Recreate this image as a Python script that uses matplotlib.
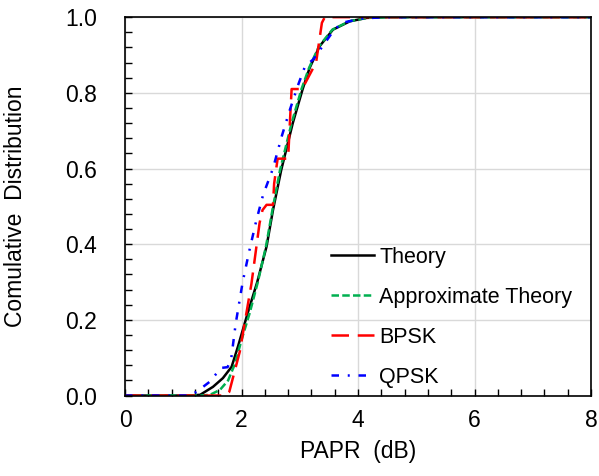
import matplotlib
matplotlib.use("Agg")
import matplotlib.pyplot as plt
from matplotlib.ticker import MultipleLocator

plt.rcParams['font.family'] = ['Liberation Sans', 'DejaVu Sans']

# Theory (black solid)
x_theory = [0, 1.1, 1.29, 1.51, 1.68, 1.83, 1.94, 2.11, 2.27, 2.43, 2.54, 2.68,
            2.88, 3.05, 3.17, 3.34, 3.57, 3.86, 4.15, 4.5, 8]
y_theory = [0, 0, 0.002, 0.023, 0.046, 0.076, 0.13, 0.22, 0.30, 0.394, 0.49, 0.595,
            0.72, 0.81, 0.866, 0.923, 0.967, 0.989, 0.998, 1.0, 1.0]

# Approximate theory (green dashed)
x_approx = [0, 1.3, 1.46, 1.63, 1.77, 1.89, 2.0, 2.14, 2.28, 2.42, 2.53, 2.66,
            2.86, 3.03, 3.16, 3.33, 3.56, 3.85, 4.15, 4.5, 8]
y_approx = [0, 0, 0.002, 0.015, 0.04, 0.085, 0.147, 0.218, 0.30, 0.394, 0.49, 0.595,
            0.72, 0.81, 0.866, 0.923, 0.967, 0.989, 0.998, 1.0, 1.0]

# BPSK (red long dash)
x_bpsk = [0, 1.72, 1.79, 1.97, 2.17, 2.31, 2.36, 2.43, 2.54, 2.56, 2.62, 2.80,
          2.83, 2.86, 3.04, 3.28, 3.38, 3.43, 8]
y_bpsk = [0, 0, 0.01, 0.116, 0.295, 0.456, 0.49, 0.504, 0.504, 0.56, 0.626, 0.626,
          0.72, 0.81, 0.81, 0.88, 0.985, 1.0, 1.0]

# QPSK (blue dash-dot)
x_qpsk = [0, 1.1, 1.23, 1.45, 1.65, 1.76, 1.82, 1.90, 2.02, 2.13, 2.25, 2.37,
          2.54, 2.69, 2.83, 2.97, 3.09, 3.23, 3.57, 3.72, 4.1, 4.5, 8]
y_qpsk = [0, 0, 0.01, 0.036, 0.073, 0.075, 0.094, 0.19, 0.30, 0.38, 0.46, 0.53,
          0.60, 0.685, 0.755, 0.82, 0.87, 0.888, 0.962, 0.985, 0.997, 1.0, 1.0]

fig = plt.figure(figsize=(5.99, 4.76), dpi=100)
ax = fig.add_axes([0.2087, 0.169, 0.778, 0.795])

ax.plot(x_theory, y_theory, color='black', lw=1.8, label='Theory')
ax.plot(x_approx, y_approx, color='#00B050', lw=1.8, dashes=(3, 1.3),
        label='Approximate Theory')
ax.plot(x_bpsk, y_bpsk, color='#FF0000', lw=1.8, dashes=(7, 3.5), label='BPSK')
ax.plot(x_qpsk, y_qpsk, color='#0000FF', lw=1.8, dashes=(3, 3.5, 0.8, 3.5),
        label='QPSK')

ax.set_xlim(0, 8)
ax.set_ylim(0, 1.0)
ax.xaxis.set_major_locator(MultipleLocator(2))
ax.xaxis.set_minor_locator(MultipleLocator(0.4))
ax.yaxis.set_major_locator(MultipleLocator(0.2))
ax.yaxis.set_minor_locator(MultipleLocator(0.04))
ax.yaxis.set_major_formatter(plt.FormatStrFormatter('%.1f'))
ax.tick_params(which='both', direction='in', length=5, width=1, labelsize=16.5,
               top=False, right=False)
ax.tick_params(axis='x', pad=10)
ax.tick_params(axis='y', pad=20)
ax.grid(True, which='major', color='#D9D9D9', lw=1)
ax.set_axisbelow(True)
for s in ax.spines.values():
    s.set_linewidth(1.2)

ax.set_xlabel('PAPR  (dB)', fontsize=16.5)
ax.set_ylabel('Comulative  Distribution', fontsize=16.5)
ax.xaxis.set_label_coords(0.5, -0.118)
ax.yaxis.set_label_coords(-0.21, 0.5)

ax.legend(loc='lower left', bbox_to_anchor=(0.40, -0.03), frameon=False,
          fontsize=15.5, handlelength=2.0, handletextpad=0.25, labelspacing=0.88)

fig.savefig('out.png', dpi=100)
